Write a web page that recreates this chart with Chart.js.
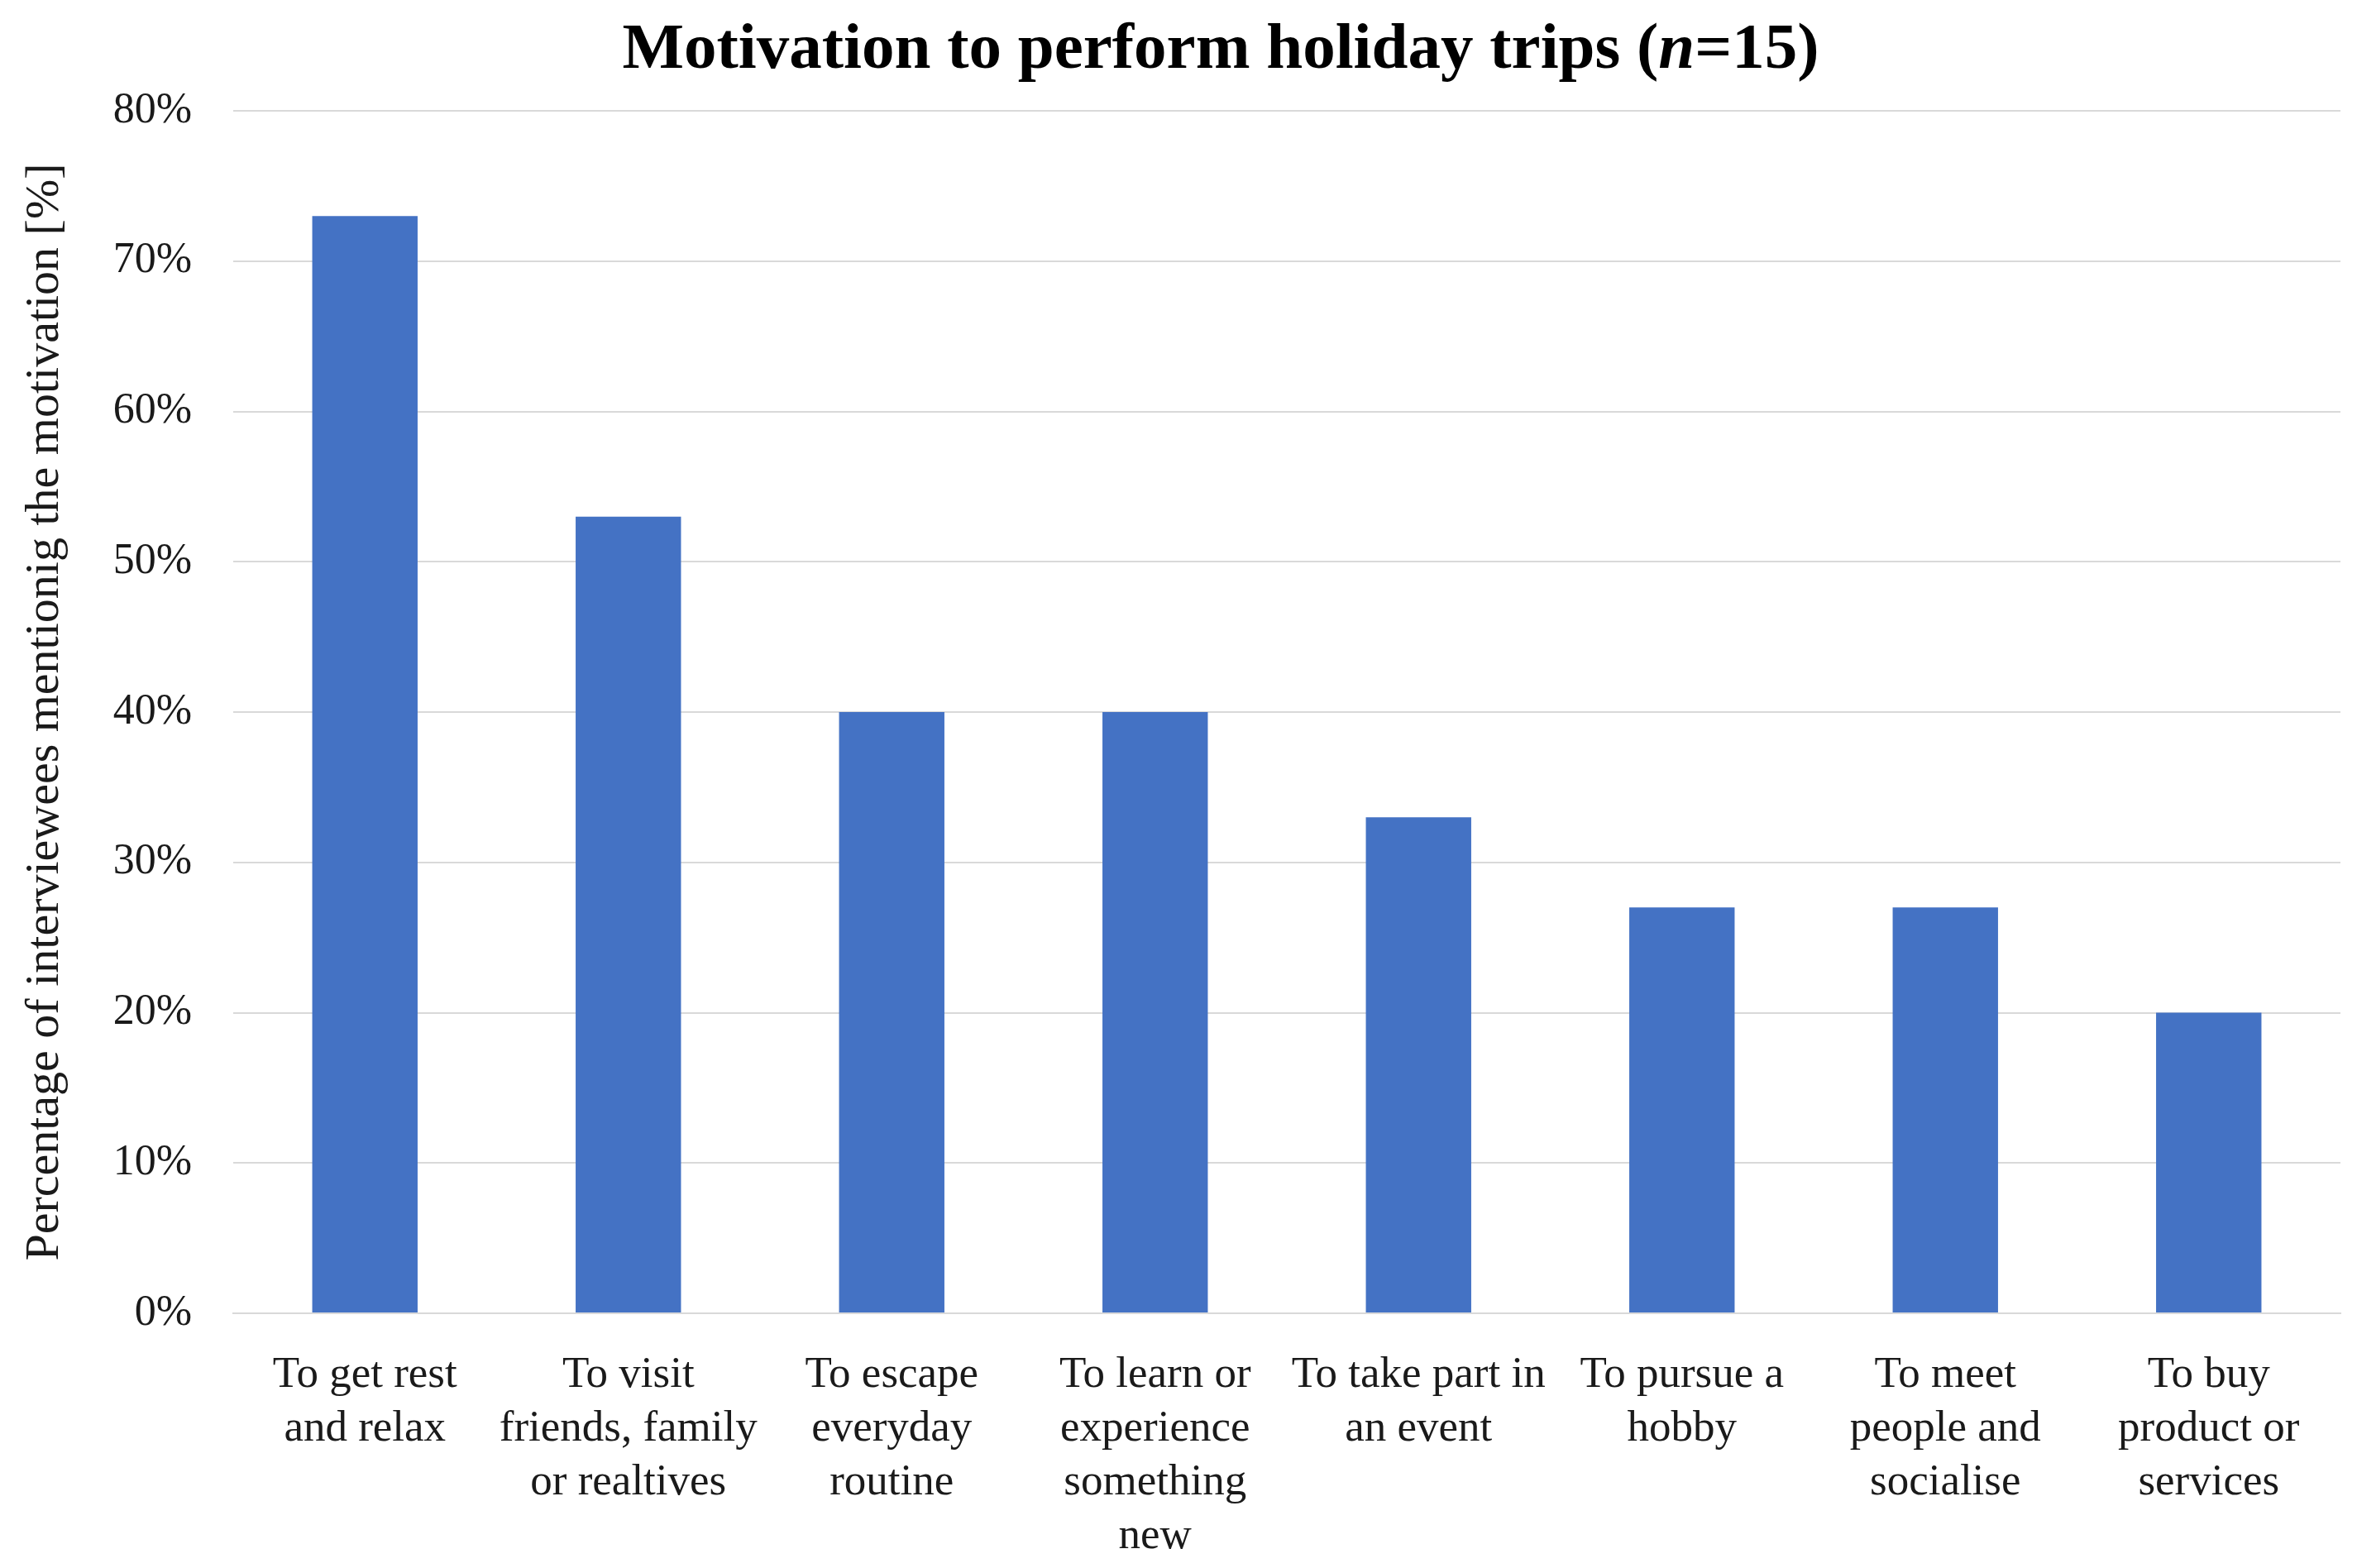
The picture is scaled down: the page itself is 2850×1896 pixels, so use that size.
<!DOCTYPE html>
<html>
<head>
<meta charset="utf-8">
<script src="https://cdn.jsdelivr.net/npm/chart.js@4.4.0/dist/chart.umd.min.js"></script>
<style>
  html, body { margin: 0; padding: 0; background: #fff; }
  #wrap { width: 2850px; height: 1896px; }
</style>
</head>
<body>
<div id="wrap"><canvas id="chart" width="2850" height="1896"></canvas></div>
<script>
"use strict";
// data
var categories = [
	["To get rest", "and relax"],
	["To visit", "friends, family", "or realtives"],
	["To escape", "everyday", "routine"],
	["To learn or", "experience", "something", "new"],
	["To take part in", "an event"],
	["To pursue a", "hobby"],
	["To meet", "people and", "socialise"],
	["To buy", "product or", "services"]
];
var shares = [73, 53, 40, 40, 33, 27, 27, 20];
var yTicks = [0, 10, 20, 30, 40, 50, 60, 70, 80];

var serif = "'Liberation Serif', 'DejaVu Serif', serif";
var textColor = "#1a1a1a";

// title with an italic n, drawn in pieces
var titleParts = [
	{ text: "Motivation to perform holiday trips (", style: "normal" },
	{ text: "n", style: "italic" },
	{ text: "=15)", style: "normal" }
];
const titlePlugin = {
	id: "mixedTitle",
	afterDraw: (chart) => {
		const ctx = chart.ctx;
		ctx.save();
		ctx.fillStyle = "#000";
		ctx.textBaseline = "alphabetic";
		ctx.textAlign = "left";
		var widths = titleParts.map(p => {
			ctx.font = p.style + " bold 79px " + serif;
			return ctx.measureText(p.text).width;
		});
		var total = widths.reduce((a, b) => a + b, 0);
		var x = 1476 - total / 2;
		titleParts.forEach((p, i) => {
			ctx.font = p.style + " bold 79px " + serif;
			ctx.fillText(p.text, x, 82);
			x += widths[i];
		});
		ctx.restore();
	}
};

new Chart(document.getElementById("chart"), {
	type: "bar",
	data: {
		labels: categories,
		datasets: [{
			data: shares,
			backgroundColor: "#4472C4",
			barPercentage: 0.4,
			categoryPercentage: 1
		}]
	},
	options: {
		responsive: false,
		devicePixelRatio: 1,
		animation: false,
		layout: { padding: { top: 134, right: 20, left: 0, bottom: 0 } },
		plugins: {
			legend: { display: false },
			tooltip: { enabled: false }
		},
		scales: {
			x: {
				grid: { display: false },
				border: { color: "#d9d9d9", width: 2 },
				ticks: {
					autoSkip: false,
					maxRotation: 0,
					padding: 34,
					color: textColor,
					font: { family: serif, size: 53, lineHeight: 1.23 }
				},
				afterFit: (s) => { s.height = 308; }
			},
			y: {
				min: 0,
				max: 80,
				afterBuildTicks: (s) => { s.ticks = yTicks.map(v => ({ value: v })); },
				grid: { color: "#d9d9d9", lineWidth: 2, drawTicks: false },
				border: { display: false },
				ticks: {
					padding: 50,
					color: textColor,
					font: { family: serif, size: 52 },
					callback: (v) => v + "%"
				},
				title: {
					display: true,
					text: "Percentage of interviewees mentionig the motivation [%]",
					color: textColor,
					font: { family: serif, size: 58 },
					padding: { top: 20, bottom: 0 }
				},
				afterFit: (s) => { s.width = 282; }
			}
		}
	},
	plugins: [titlePlugin]
});
</script>
</body>
</html>
